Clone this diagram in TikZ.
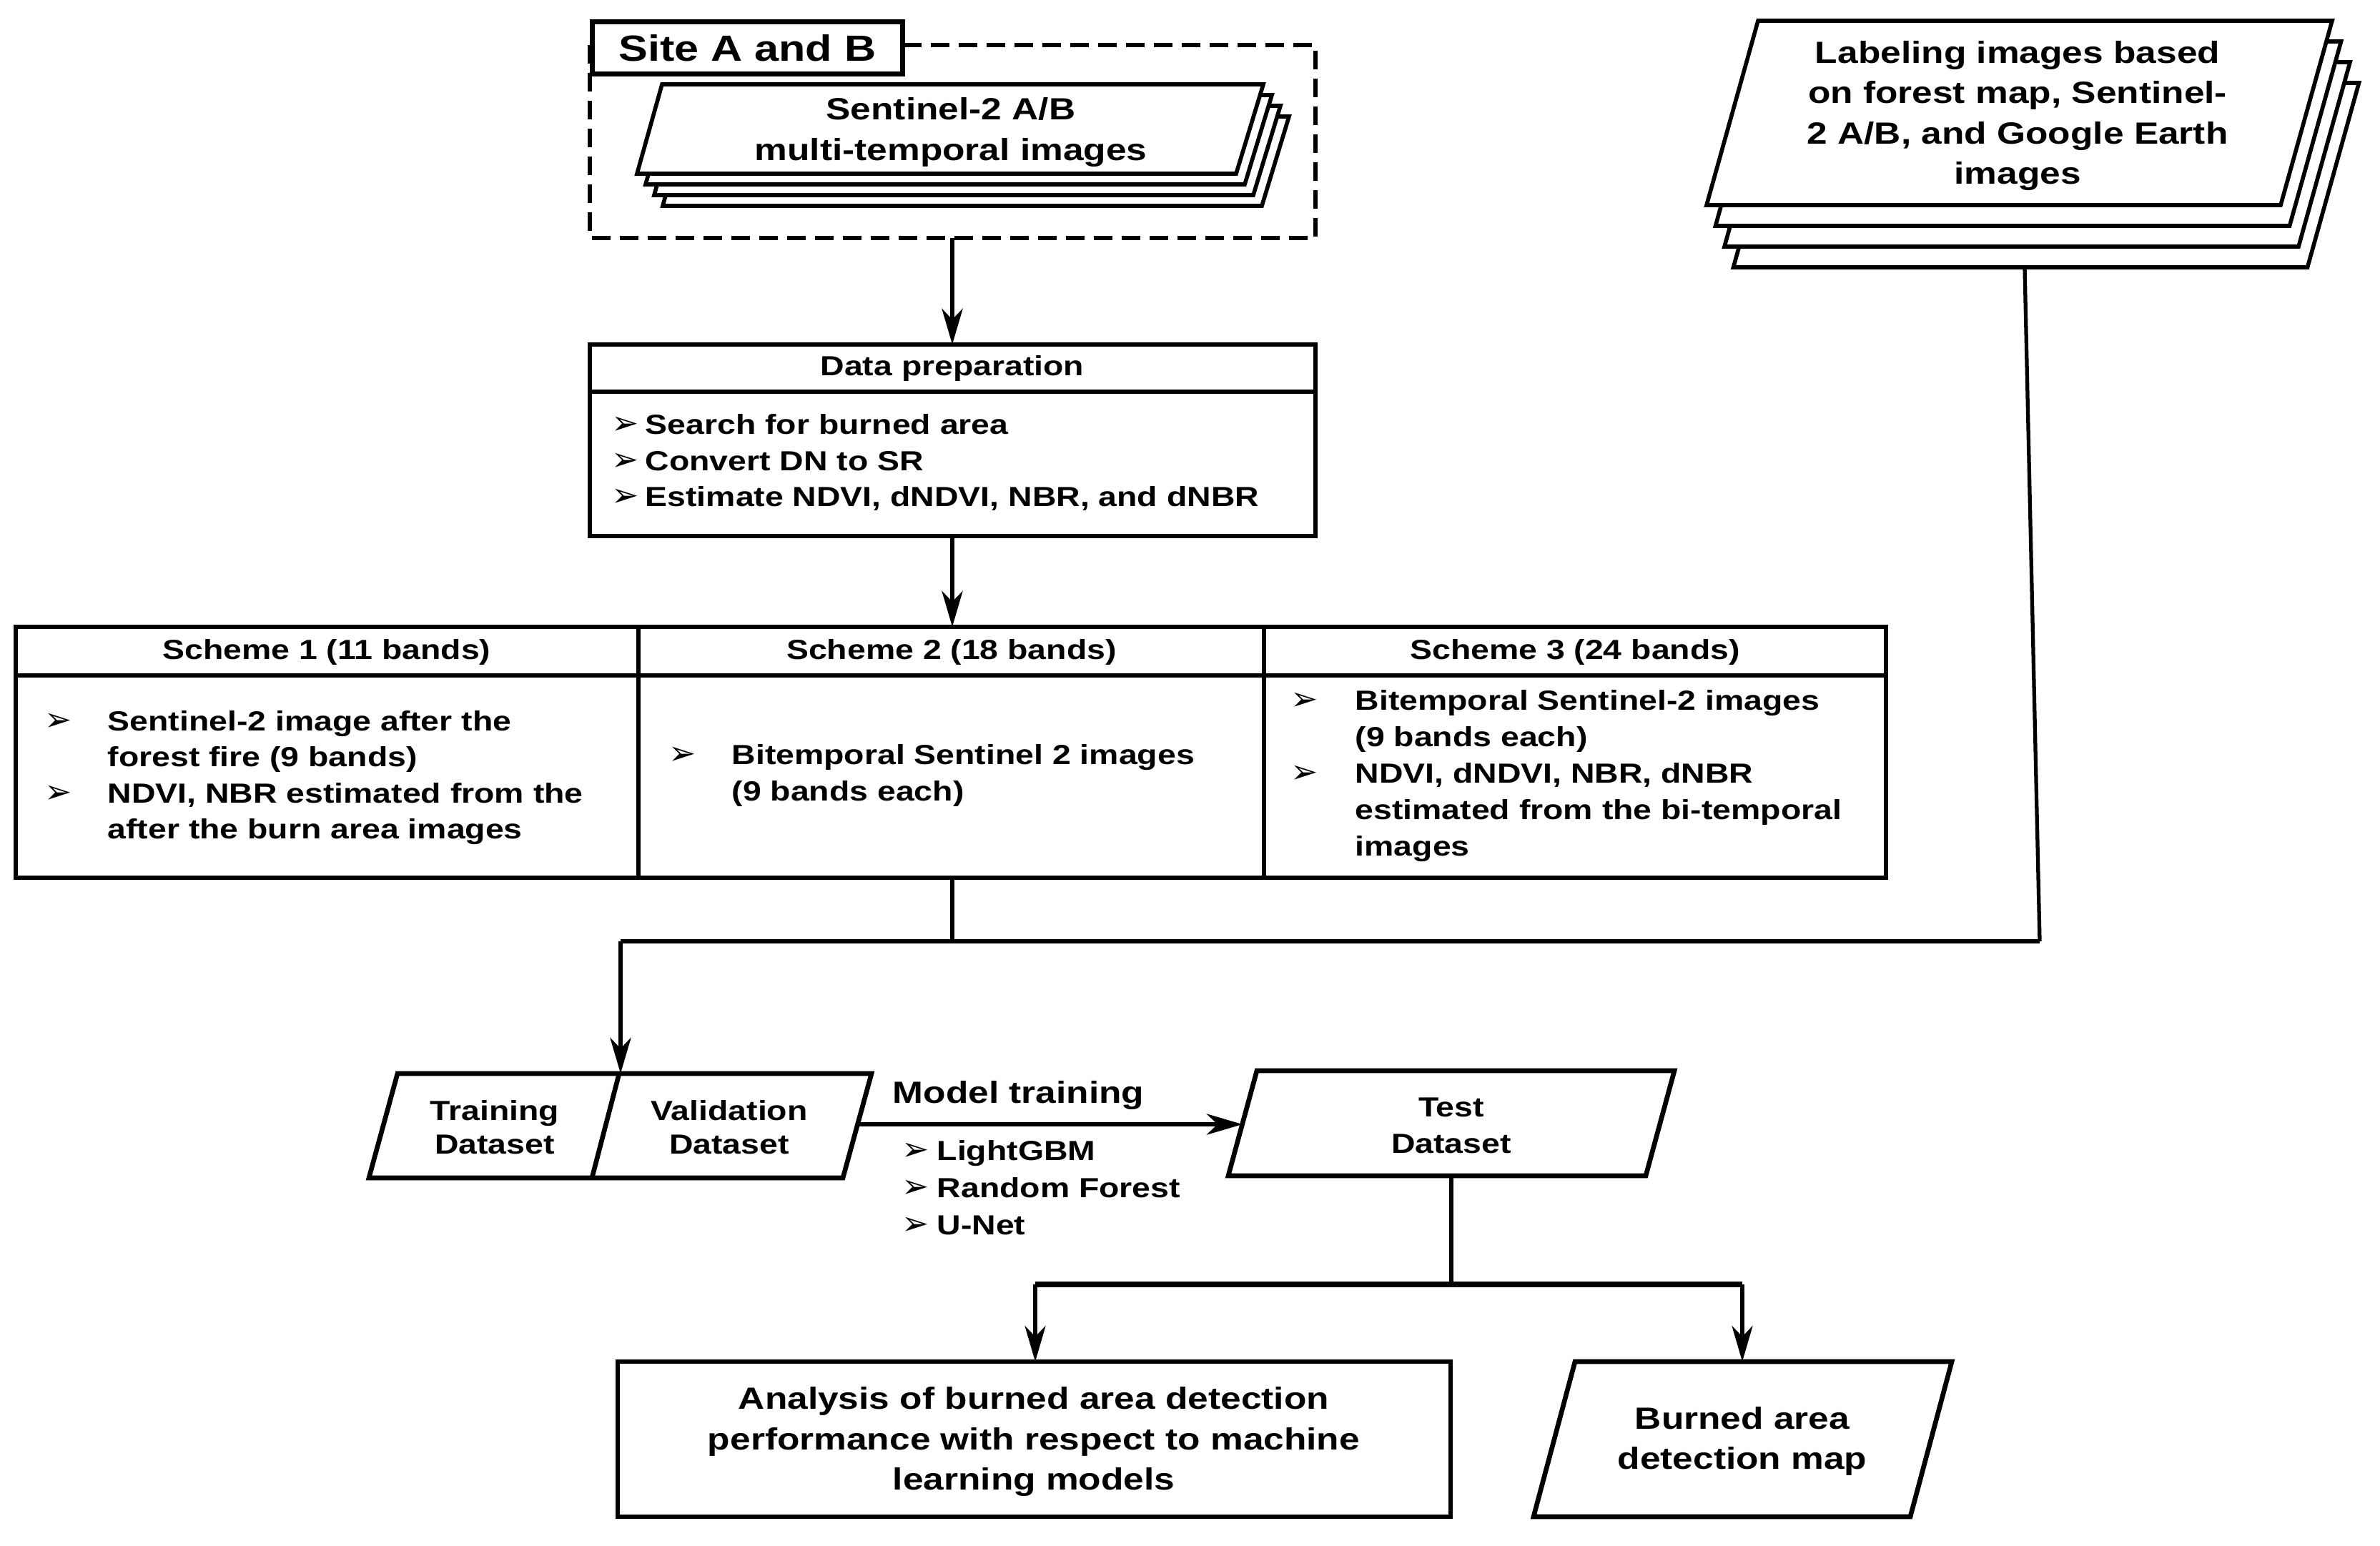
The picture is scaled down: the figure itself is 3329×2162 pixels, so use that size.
\documentclass[tikz,border=0pt]{standalone}
\usepackage{fontspec}
\setmainfont{Liberation Sans}[FakeStretch=1.2]
\newfontfamily\dingfont{DejaVu Sans}
\usetikzlibrary{arrows.meta}
\newcommand{\bul}{{\dingfont\fontsize{13}{13}\selectfont ➢}}
\begin{document}
\begin{tikzpicture}[x=0.1mm,y=-0.1mm,
  box/.style={draw, line width=1.9pt, fill=white},
  sep/.style={draw, line width=1.9pt},
  dashbox/.style={draw, line width=1.8pt, dash pattern=on 2.6mm off 1.3mm},
  conn/.style={line width=1.9pt},
  arr/.style={conn, -{Stealth[length=5mm,width=2.9mm,inset=1.5mm]}},
  tA/.style={font=\fontsize{11}{14.3}\selectfont\bfseries, inner sep=0pt, align=center},
  tL/.style={font=\fontsize{11}{14.3}\selectfont\bfseries, inner sep=0pt, anchor=west},
  tB/.style={font=\fontsize{12.2}{16}\selectfont\bfseries, inner sep=0pt, align=center},
  ]
\useasboundingbox (0,0) rectangle (3329,2162);

% ---- Site A and B group
\draw[dashbox] (825,63) rectangle (1840,333);
\node[box, anchor=north west, minimum width=43.4mm, minimum height=7.3mm, inner sep=0pt,
      font=\fontsize{14.5}{16}\selectfont\bfseries] (site) at (825,27) {Site A and B};
\foreach \k in {3,2,1}{
  \draw[box, line width=1.6pt, shift={(\k*12,\k*15)}] (926,118) -- (1767,118) -- (1729,243) -- (891,243) -- cycle;
}
\draw[box, line width=1.6pt] (926,118) -- (1767,118) -- (1729,243) -- (891,243) -- cycle;
\node[tB] (sen) at (1330,185) {Sentinel-2 A/B\\multi-temporal images};

% ---- Labeling stack
\foreach \k in {3,2,1}{
  \draw[box, line width=1.6pt, shift={(\k*12.5,\k*29)}] (2459,29) -- (3262,29) -- (3190,287) -- (2387,287) -- cycle;
}
\draw[box, line width=1.6pt] (2459,29) -- (3262,29) -- (3190,287) -- (2387,287) -- cycle;
\node[tB] (lab) at (2822,162) {Labeling images based\\on forest map, Sentinel-\\2 A/B, and Google Earth\\images};

% ---- Data preparation
\draw[box] (825,482) rectangle (1840,750);
\draw[sep] (825,548) -- (1840,548);
\node[tA] (dph) at (1332,515) {Data preparation};
\node[tL] (dpl) at (855,648) {\begin{tabular}{@{}p{4.7mm}@{}l@{}}
\bul & Search for burned area\\
\bul & Convert DN to SR\\
\bul & Estimate NDVI, dNDVI, NBR, and dNBR
\end{tabular}};

% ---- Schemes
\draw[box] (22,877) rectangle (2638,1228);
\draw[sep] (22,945) -- (2638,945);
\draw[sep] (893,877) -- (893,1228);
\draw[sep] (1768,877) -- (1768,1228);
\node[tA] (s1h) at (457,912) {Scheme 1 (11 bands)};
\node[tA] (s2h) at (1331,912) {Scheme 2 (18 bands)};
\node[tA] (s3h) at (2203,912) {Scheme 3 (24 bands)};
\node[tL] (s1l) at (62,1088) {\begin{tabular}{@{}p{8.8mm}@{}l@{}}
\bul & Sentinel-2 image after the\\
 & forest fire (9 bands)\\
\bul & NDVI, NBR estimated from the\\
 & after the burn area images
\end{tabular}};
\node[tL] (s2l) at (935,1085) {\begin{tabular}{@{}p{8.8mm}@{}l@{}}
\bul & Bitemporal Sentinel 2 images\\
 & (9 bands each)
\end{tabular}};
\node[tL, font=\fontsize{11}{14.5}\selectfont\bfseries] (s3l) at (1805,1085) {\begin{tabular}{@{}p{9mm}@{}l@{}}
\bul & Bitemporal Sentinel-2 images\\
 & (9 bands each)\\
\bul & NDVI, dNDVI, NBR, dNBR\\
 & estimated from the bi-temporal\\
 & images
\end{tabular}};

% ---- Training / Validation
\draw[box] (556,1502) -- (1219,1502) -- (1179,1648) -- (516,1648) -- cycle;
\draw[sep] (866,1502) -- (828,1648);
\node[tA, font=\fontsize{11}{13.4}\selectfont\bfseries] (tr) at (692,1577) {Training\\Dataset};
\node[tA, font=\fontsize{11}{13.4}\selectfont\bfseries] (va) at (1020,1577) {Validation\\Dataset};
\node[tB, anchor=west] (mt) at (1248,1532) {Model training};
\node[tL, font=\fontsize{11}{14.8}\selectfont\bfseries] (ml) at (1261,1665) {\begin{tabular}{@{}p{4.9mm}@{}l@{}}
\bul & LightGBM\\
\bul & Random Forest\\
\bul & U-Net
\end{tabular}};

% ---- Test
\draw[box] (1758,1498) -- (2342,1498) -- (2302,1645) -- (1718,1645) -- cycle;
\node[tA, font=\fontsize{11}{14.5}\selectfont\bfseries] (te) at (2030,1575) {Test\\Dataset};

% ---- Outputs
\draw[box] (864,1905) rectangle (2029,2122);
\node[tB] (an) at (1446,2017) {Analysis of burned area detection\\performance with respect to machine\\learning models};
\draw[box] (2203,1905) -- (2730,1905) -- (2672,2122) -- (2145,2122) -- cycle;
\node[tB] (bm) at (2437,2016) {Burned area\\detection map};

% ---- connection points
\coordinate (dashS) at (1332,333);
\coordinate (dpN) at (1332,482);
\coordinate (dpS) at (1332,750);
\coordinate (s2N) at (1332,877);
\coordinate (s2S) at (1332,1228);
\coordinate (j1) at (1332,1317);
\coordinate (labS) at (2832,375);
\coordinate (labC) at (2853,1317);
\coordinate (jL) at (868,1317);
\coordinate (tvN) at (868,1502);
\coordinate (vaE) at (1200,1573);
\coordinate (teW) at (1738,1573);
\coordinate (teS) at (2030,1645);
\coordinate (brc) at (2030,1797);
\coordinate (bL) at (1448,1797);
\coordinate (bR) at (2437,1797);
\coordinate (anN) at (1448,1905);
\coordinate (bmN) at (2437,1905);

% ---- connectors
\draw[arr] (dashS) -- (dpN);
\draw[arr] (dpS) -- (s2N);
\draw[conn] (s2S) -- (j1);
\draw[conn, line width=1.5pt] (labS) -- (labC);
\draw[conn] (labC) -- (jL);
\draw[arr] (jL) -- (tvN);
\draw[arr] (vaE) -- (teW);
\draw[conn, line width=1.6pt] (teS) -- (brc);
\draw[conn, line width=2.4pt] (bL) -- (bR);
\draw[arr, line width=1.6pt] (bL) -- (anN);
\draw[arr, line width=1.6pt] (bR) -- (bmN);
\end{tikzpicture}
\end{document}
